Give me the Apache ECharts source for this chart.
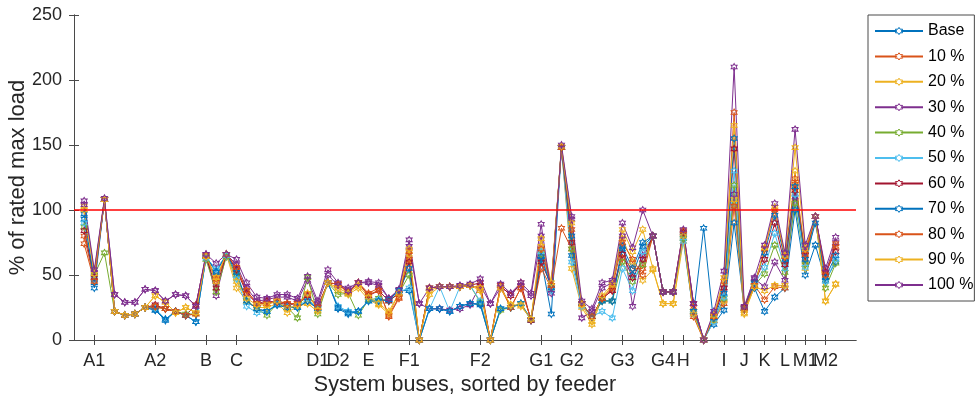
<!DOCTYPE html>
<html>
<head>
<meta charset="utf-8">
<script src="https://cdn.jsdelivr.net/npm/echarts@6/dist/echarts.min.js"></script>
<style>
  html, body { margin: 0; padding: 0; background: #fff; }
  #chart { width: 979px; height: 402px; }
</style>
</head>
<body>
<div id="chart"></div>
<script>
// Feeder tick positions (bus index) and their labels
const busTicks = [2, 8, 13, 16, 24, 26, 29, 33, 40, 46, 49, 54, 58, 60, 64, 66, 68, 70, 72, 74];
const busTickLabels = ['A1', 'A2', 'B', 'C', 'D1', 'D2', 'E', 'F1', 'F2', 'G1', 'G2', 'G3', 'G4', 'H', 'I', 'J', 'K', 'L', 'M1', 'M2'];

const seriesNames = ['Base', '10 %', '20 %', '30 %', '40 %', '50 %', '60 %', '70 %', '80 %', '90 %', '100 %'];

// Line loading per bus (% of rated max load), buses 1..75
const loadBase = [93,40,108,22,19,20,25,23,15,22, 19,14,64,53,65,50,30,24,22,27, 25,25,30,24,44,24,20,22,30,30, 31,38,38,0,24,24,22,26,28,27, 0,24,25,28,15,62,20,148,65,28, 18,30,30,70,50,72,80,37,37,78, 20,86,12,23,90,24,40,22,33,40, 100,50,73,46,60];
const load10 = [80,46,108,22,19,20,25,25,24,22, 19,20,65,45,66,55,38,28,28,30, 28,28,33,26,44,43,36,44,36,40, 18,32,62,0,40,41,41,41,42,40, 0,40,25,40,16,55,40,86,70,28, 18,32,38,63,55,55,80,37,37,82, 25,0,15,28,103,23,42,31,41,40, 120,60,95,50,72];
const load20 = [103,50,108,22,19,20,25,34,29,21, 25,21,64,45,66,40,30,25,25,28, 21,26,28,22,44,38,35,40,31,27, 20,36,66,0,35,41,41,41,42,38, 0,40,27,26,16,72,42,148,55,25, 12,32,42,78,60,46,54,28,28,76, 22,0,15,30,108,20,41,38,42,42, 130,55,95,30,43];
const load30 = [104,52,108,35,29,29,39,38,30,35, 34,26,66,34,66,58,40,30,31,33, 33,30,46,28,50,42,40,44,44,42, 32,38,72,28,24,24,23,24,27,42, 28,40,36,42,34,80,38,148,93,17, 22,40,44,80,26,65,80,37,37,84, 28,0,20,40,112,25,47,41,60,46, 110,68,95,52,75];
const load40 = [87,50,67,22,19,20,25,26,24,22, 20,20,62,37,64,50,30,24,19,28, 25,17,48,20,44,35,36,19,31,32, 30,36,50,0,40,41,41,41,42,29, 0,23,25,28,16,66,40,148,70,28, 18,30,30,60,45,58,80,37,37,78, 22,0,16,32,119,24,42,51,73,52, 105,58,95,40,59];
const load50 = [90,47,108,22,19,20,25,24,16,22, 19,14,63,55,65,47,26,21,22,28, 26,25,32,24,44,26,22,22,30,31, 30,37,40,0,24,41,22,41,42,30, 0,24,25,28,16,68,38,148,60,26, 18,22,17,55,38,68,80,37,37,76, 20,0,14,33,130,24,43,56,82,55, 112,56,95,45,62];
const load60 = [84,48,108,22,19,20,25,27,24,22, 19,27,64,40,66,54,36,28,30,29, 27,28,34,25,44,43,37,44,34,38, 30,36,60,0,40,41,41,41,42,44, 0,42,34,44,15,60,42,148,75,28, 18,32,38,66,48,62,80,37,37,83, 28,0,18,40,147,25,44,62,90,58, 115,65,95,52,68];
const load70 = [97,44,108,22,19,20,25,23,16,22, 19,14,64,52,66,52,30,24,22,27, 25,25,30,24,44,25,21,22,30,30, 31,38,55,0,24,24,22,26,28,28, 0,24,25,28,16,64,40,148,80,28, 18,30,30,72,55,75,80,37,37,80, 22,0,17,36,155,24,44,67,96,62, 118,62,90,48,65];
const load80 = [74,45,108,22,19,20,25,26,24,22, 19,20,65,47,66,56,38,28,28,30, 28,28,35,25,44,43,37,44,35,38, 19,33,68,0,40,41,41,41,42,40, 0,42,25,40,16,70,42,148,85,28, 18,32,40,75,62,50,80,37,37,84, 18,0,18,45,175,24,42,70,100,64, 124,66,95,50,74];
const load90 = [100,51,108,22,19,20,25,34,29,21, 25,21,64,48,66,45,32,27,27,30, 24,27,36,23,44,40,36,42,33,28, 22,36,70,0,38,41,41,41,42,40, 0,40,27,27,16,78,44,149,90,27, 14,34,43,85,68,85,55,28,28,80, 20,0,19,48,165,21,41,71,102,65, 148,70,95,30,43];
const load100 = [107,54,109,35,29,29,39,38,30,35, 34,26,66,59,66,62,44,33,32,35, 35,32,49,30,54,44,38,44,45,44, 32,39,77,28,40,41,41,42,43,47, 28,43,36,44,36,89,36,150,95,30, 24,44,46,90,71,100,80,37,37,85, 28,0,22,53,210,26,48,73,105,67, 162,73,95,55,79];

const ratedLimit = 100;

const seriesValues = [loadBase, load10, load20, load30, load40, load50, load60, load70, load80, load90, load100];
const palette = ['#0072BD', '#D95319', '#EDB120', '#7E2F8E', '#77AC30', '#4DBEEE', '#A2142F', '#0072BD', '#D95319', '#EDB120', '#7E2F8E'];

const font = '"Liberation Sans", Arial, Helvetica, sans-serif';
const axisColor = '#4a4a4a';
const textColor = '#262626';
// Open six-pointed star marker
const hexagram = 'path://M10,0L12.89,5L18.66,5L15.77,10L18.66,15L12.89,15L10,20L7.11,15L1.34,15L4.23,10L1.34,5L7.11,5Z';

// Neighbouring labels crowd each other at the end of the axis, so every
// other label goes on a second, line-less bottom axis to keep all of them drawn.
const tickLabelOf = {};
busTicks.forEach((b, i) => { tickLabelOf[b] = busTickLabels[i]; });
const ticksA = busTicks.filter((b, i) => i % 2 === 0);
const ticksB = busTicks.filter((b, i) => i % 2 === 1);

const lineSeries = seriesNames.map((name, k) => ({
  name: name,
  type: 'line',
  data: seriesValues[k].map((v, i) => [i + 1, v]),
  symbol: hexagram,
  symbolSize: [6, 7],
  showAllSymbol: true,
  lineStyle: { color: palette[k], width: 1 },
  itemStyle: { color: 'rgba(255,255,255,0)', borderColor: palette[k], borderWidth: 1 },
  emphasis: { disabled: true },
  z: 2
}));

lineSeries.push({
  name: 'limit',
  type: 'line',
  data: [[0, ratedLimit], [77, ratedLimit]],
  symbol: 'none',
  lineStyle: { color: '#ff0000', width: 1.5 },
  emphasis: { disabled: true },
  silent: true,
  z: 3
});

const baseAxisX = {
  type: 'value', min: 0, max: 77,
  axisLine: { show: true, lineStyle: { color: axisColor, width: 1 } },
  axisTick: { show: true, inside: true, length: 5, customValues: busTicks, lineStyle: { color: axisColor } },
  splitLine: { show: false }
};
const baseAxisY = {
  type: 'value', min: 0, max: 250, interval: 50,
  axisLine: { show: true, lineStyle: { color: axisColor, width: 1 } },
  axisTick: { show: true, inside: true, length: 5, lineStyle: { color: axisColor } },
  splitLine: { show: false }
};
const xLabelStyle = { hideOverlap: false, fontSize: 18, color: textColor, fontFamily: font, margin: 12,
  formatter: v => tickLabelOf[v] || '' };

const chart = echarts.init(document.getElementById('chart'), null, { renderer: 'canvas' });
chart.setOption({
  animation: false,
  backgroundColor: '#ffffff',
  color: palette,
  textStyle: { fontFamily: font },
  grid: { left: 74, right: 123, top: 15, bottom: 62, containLabel: false, outerBoundsMode: 'none' },
  legend: {
    data: seriesNames,
    orient: 'vertical',
    left: 868, top: 15,
    padding: [8, 1, 8, 6],
    itemGap: 9.4,
    itemWidth: 48,
    itemHeight: 9,
    borderColor: axisColor,
    borderWidth: 1,
    itemStyle: { color: '#ffffff', borderWidth: 1 },
    textStyle: { fontSize: 16, color: '#000', fontFamily: font, lineHeight: 14 }
  },
  xAxis: [
    Object.assign({}, baseAxisX, {
      position: 'bottom',
      name: 'System buses, sorted by feeder',
      nameLocation: 'middle',
      nameGap: 34,
      nameMoveOverlap: false,
      nameTextStyle: { fontSize: 21.5, color: textColor, fontFamily: font },
      axisLabel: Object.assign({ customValues: ticksA }, xLabelStyle)
    }),
    Object.assign({}, baseAxisX, { position: 'top', axisLabel: { show: false } }),
    {
      type: 'value', min: 0, max: 77, position: 'bottom',
      axisLine: { show: false }, axisTick: { show: false }, splitLine: { show: false },
      axisLabel: Object.assign({ customValues: ticksB }, xLabelStyle)
    }
  ],
  yAxis: [
    Object.assign({}, baseAxisY, {
      position: 'left',
      name: '% of rated max load',
      nameLocation: 'middle',
      nameGap: 45,
      nameMoveOverlap: false,
      nameTextStyle: { fontSize: 22, color: textColor, fontFamily: font },
      axisLabel: { fontSize: 18, color: textColor, fontFamily: font, margin: 12 }
    }),
    Object.assign({}, baseAxisY, { position: 'right', axisLabel: { show: false } })
  ],
  series: lineSeries
});
</script>
</body>
</html>
